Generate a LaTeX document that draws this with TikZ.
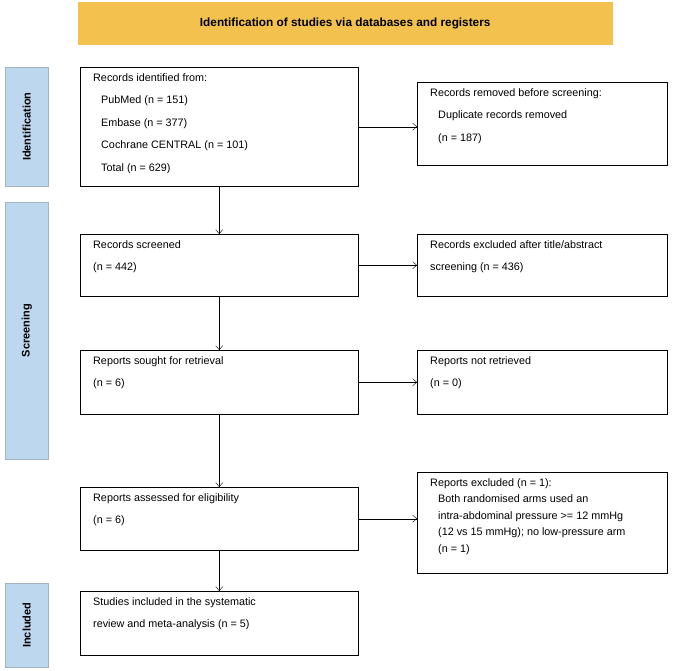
\documentclass[tikz,border=0pt]{standalone}
\usepackage{fontspec}
\setmainfont{Liberation Sans}
\usetikzlibrary{positioning}
\definecolor{banner}{HTML}{F2C14E}
\definecolor{phase}{HTML}{BDD7EE}
\tikzset{
  box/.style={draw,rectangle,inner sep=0pt,anchor=north west},
  txt/.style={anchor=north west,align=left,inner sep=0pt,
    font=\fontsize{10.8}{22.5}\selectfont},
  side/.style={draw=phase!60!gray,fill=phase,rectangle,inner sep=0pt,anchor=north west,
    minimum width=43pt},
  sidetxt/.style={rotate=90,font=\fontsize{11}{12}\selectfont\bfseries},
  flow/.style={-{Straight Barb[length=4pt,width=7pt]},thin},
}
\usetikzlibrary{arrows.meta}
\begin{document}
\begin{tikzpicture}[x=1pt,y=-1pt]
\useasboundingbox (0,0) rectangle (685,670);
% banner
\node[box,draw=banner,fill=banner,minimum width=534pt,minimum height=42pt] (top) at (78,2)
  {\fontsize{11.8}{13}\selectfont\bfseries Identification of studies via databases and registers};
% phases
\node[side,minimum height=119pt] (ident) at (5,67) {};
\node[sidetxt] at (ident.center) {Identification};
\node[side,minimum height=257pt] (screen) at (5,202) {};
\node[sidetxt] at (screen.center) {Screening};
\node[side,minimum height=84pt] (incl) at (5,583) {};
\node[sidetxt] at (incl.center) {Included};
% left column
\node[box,minimum width=278pt,minimum height=119pt] (found) at (80,67) {};
\node[txt] at ([shift={(13,6)}]found.north west)
  {Records identified from:\\\hspace{8pt}PubMed (n = 151)\\\hspace{8pt}Embase (n = 377)\\\hspace{8pt}Cochrane CENTRAL (n = 101)\\\hspace{8pt}Total (n = 629)};
\node[box,minimum width=278pt,minimum height=62pt] (screened) at (80,234) {};
\node[txt] at ([shift={(13,6)}]screened.north west) {Records screened\\(n = 442)};
\node[box,minimum width=278pt,minimum height=64pt] (sought) at (80,350) {};
\node[txt] at ([shift={(13,6)}]sought.north west) {Reports sought for retrieval\\(n = 6)};
\node[box,minimum width=278pt,minimum height=63pt] (assessed) at (80,487) {};
\node[txt] at ([shift={(13,6)}]assessed.north west) {Reports assessed for eligibility\\(n = 6)};
\node[box,minimum width=278pt,minimum height=64pt] (included) at (80,591) {};
\node[txt] at ([shift={(13,6)}]included.north west) {Studies included in the systematic\\review and meta-analysis (n = 5)};
% right column
\node[box,minimum width=250pt,minimum height=83pt] (removed) at (417,82) {};
\node[txt] at ([shift={(13,6)}]removed.north west)
  {Records removed before screening:\\\hspace{8pt}Duplicate records removed\\\hspace{8pt}(n = 187)};
\node[box,minimum width=250pt,minimum height=62pt] (excluded) at (417,234) {};
\node[txt] at ([shift={(13,6)}]excluded.north west) {Records excluded after title/abstract\\screening (n = 436)};
\node[box,minimum width=250pt,minimum height=64pt] (notret) at (417,350) {};
\node[txt] at ([shift={(13,6)}]notret.north west) {Reports not retrieved\\(n = 0)};
\node[box,minimum width=250pt,minimum height=101pt] (repexcl) at (417,472) {};
\node[txt,font=\fontsize{10.8}{16.5}\selectfont] at ([shift={(13,6)}]repexcl.north west)
  {Reports excluded (n = 1):\\\hspace{8pt}Both randomised arms used an\\\hspace{8pt}intra-abdominal pressure >= 12 mmHg\\\hspace{8pt}(12 vs 15 mmHg); no low-pressure arm\\\hspace{8pt}(n = 1)};
% arrows
\draw[flow] (found.south) -- (screened.north);
\draw[flow] (screened.south) -- (sought.north);
\draw[flow] (sought.south) -- (assessed.north);
\draw[flow] (assessed.south) -- (included.north);
\draw[flow] (found.east) -- (found.east -| removed.west);
\draw[flow] (screened.east) -- (excluded.west);
\draw[flow] (sought.east) -- (notret.west);
\draw[flow] (assessed.east) -- (assessed.east -| repexcl.west);
\end{tikzpicture}
\end{document}
